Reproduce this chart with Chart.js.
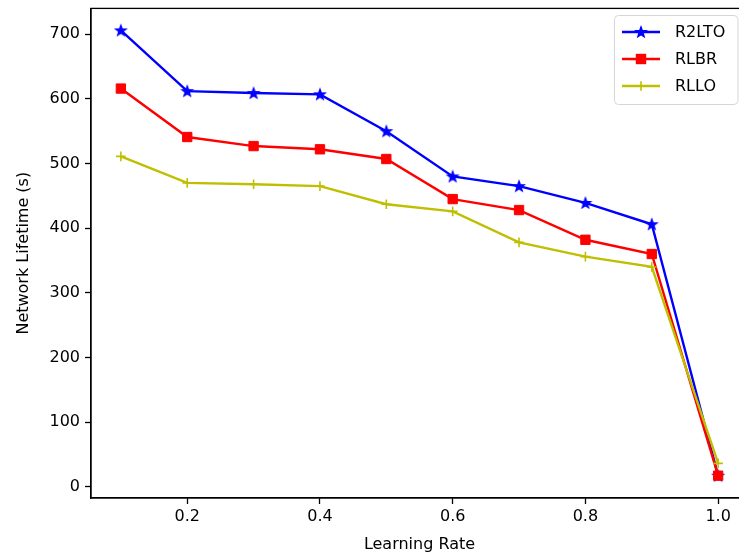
<!DOCTYPE html>
<html>
<head>
<meta charset="utf-8">
<script src="https://cdn.jsdelivr.net/npm/chart.js@4.4.1/dist/chart.umd.min.js"></script>
<style>
  html, body { margin: 0; padding: 0; overflow: hidden; background: #fff; }
  #wrap { position: relative; width: 760px; height: 558px; }
</style>
</head>
<body>
<div id="wrap"><canvas id="c"></canvas></div>
<script>
// ---- data ----
const learningRates = [0.1, 0.2, 0.3, 0.4, 0.5, 0.6, 0.7, 0.8, 0.9, 1.0];
const r2lto = [706, 612, 609, 607, 550, 480, 465, 439, 406, 17];
const rlbr  = [616, 541, 527, 522, 507, 445, 428, 382, 360, 17];
const rllo  = [511, 470, 468, 465, 437, 426, 378, 356, 340, 36];
const seriesNames = ['R2LTO', 'RLBR', 'RLLO'];
const xTickValues = [0.2, 0.4, 0.6, 0.8, 1.0];
const yTickValues = [0, 100, 200, 300, 400, 500, 600, 700];
const xTitle = 'Learning Rate';
const yTitle = 'Network Lifetime (s)';

const FONT = 'DejaVu Sans';
const BLUE = '#0000ff', RED = '#ff0000', YEL = '#bfbf00';

function starPath(ctx, cx, cy, R, r) {
  ctx.beginPath();
  for (let i = 0; i < 10; i++) {
    const rad = i % 2 === 0 ? R : r;
    const a = -Math.PI / 2 + i * Math.PI / 5;
    const px = cx + rad * Math.cos(a), py = cy + rad * Math.sin(a);
    if (i === 0) ctx.moveTo(px, py); else ctx.lineTo(px, py);
  }
  ctx.closePath();
}
function makeStar(color) {
  const c = document.createElement('canvas');
  c.width = 16; c.height = 16;
  const g = c.getContext('2d');
  starPath(g, 8, 8.4, 5.6, 2.3);
  g.fillStyle = color; g.fill();
  g.lineWidth = 1.2; g.strokeStyle = color; g.lineJoin = 'miter'; g.stroke();
  return c;
}
const starImg = makeStar(BLUE);

const toPts = arr => learningRates.map((x, i) => ({ x: x, y: arr[i] }));

const framePlugin = {
  id: 'frame',
  afterDraw(chart) {
    const { ctx, chartArea: a } = chart;
    ctx.save();
    ctx.strokeStyle = '#000'; ctx.lineWidth = 1.3;
    ctx.strokeRect(a.left, a.top, a.right - a.left, a.bottom - a.top);
    ctx.restore();
  }
};

const legendPlugin = {
  id: 'mplLegend',
  afterDraw(chart) {
    const ctx = chart.ctx;
    ctx.save();
    const bx = 614.5, by = 15.5, bw = 123.5, bh = 89, rr = 4;
    ctx.beginPath();
    ctx.moveTo(bx + rr, by); ctx.lineTo(bx + bw - rr, by); ctx.quadraticCurveTo(bx + bw, by, bx + bw, by + rr);
    ctx.lineTo(bx + bw, by + bh - rr); ctx.quadraticCurveTo(bx + bw, by + bh, bx + bw - rr, by + bh);
    ctx.lineTo(bx + rr, by + bh); ctx.quadraticCurveTo(bx, by + bh, bx, by + bh - rr);
    ctx.lineTo(bx, by + rr); ctx.quadraticCurveTo(bx, by, bx + rr, by);
    ctx.closePath();
    ctx.fillStyle = 'rgba(255,255,255,0.8)'; ctx.fill();
    ctx.strokeStyle = '#d6d6d6'; ctx.lineWidth = 1; ctx.stroke();

    const ys = [32, 59, 86];
    chart.data.datasets.forEach((ds, i) => {
      const y = ys[i];
      ctx.strokeStyle = ds.borderColor; ctx.lineWidth = 2.4;
      ctx.beginPath(); ctx.moveTo(622, y); ctx.lineTo(660, y); ctx.stroke();
      const mx = 641;
      if (i === 0) {
        ctx.drawImage(starImg, mx - 8, y - 8);
      } else if (i === 1) {
        ctx.fillStyle = RED; ctx.fillRect(mx - 5.2, y - 5.2, 10.4, 10.4);
      } else {
        ctx.strokeStyle = YEL; ctx.lineWidth = 1.6;
        ctx.beginPath(); ctx.moveTo(mx - 4.8, y); ctx.lineTo(mx + 4.8, y);
        ctx.moveTo(mx, y - 4.8); ctx.lineTo(mx, y + 4.8); ctx.stroke();
      }
      ctx.fillStyle = '#000'; ctx.font = '16px "' + FONT + '"';
      ctx.textBaseline = 'middle'; ctx.textAlign = 'left';
      ctx.fillText(ds.label, 675, y + 1);
    });
    ctx.restore();
  }
};

function noPad(s) { s.paddingTop = 0; s.paddingBottom = 0; s.paddingLeft = 0; s.paddingRight = 0; }

new Chart(document.getElementById('c'), {
  type: 'line',
  data: {
    datasets: [
      { label: seriesNames[0], data: toPts(r2lto), borderColor: BLUE, backgroundColor: BLUE,
        borderWidth: 2.4, pointStyle: starImg, pointRadius: 6, order: 3 },
      { label: seriesNames[1], data: toPts(rlbr), borderColor: RED, backgroundColor: RED,
        borderWidth: 2.4, pointStyle: 'rect', pointRadius: 6.6, pointBorderWidth: 1, pointBorderColor: RED, order: 2 },
      { label: seriesNames[2], data: toPts(rllo), borderColor: YEL, backgroundColor: YEL,
        borderWidth: 2.4, pointStyle: 'cross', pointRadius: 4.8, pointBorderWidth: 1.6, pointBorderColor: YEL, order: 1 }
    ]
  },
  options: {
    responsive: true,
    maintainAspectRatio: false,
    animation: false,
    events: [],
    layout: { padding: { top: 7, right: 12, left: 0, bottom: 0 } },
    elements: { line: { tension: 0, fill: false } },
    plugins: { legend: { display: false }, tooltip: { enabled: false } },
    scales: {
      x: {
        type: 'linear', min: 0.055, max: 1.045,
        afterBuildTicks: s => { s.ticks = xTickValues.map(v => ({ value: v })); },
        afterFit: s => { s.height = 60; noPad(s); },
        ticks: { callback: v => v.toFixed(1), color: '#000', font: { family: FONT, size: 16 }, padding: 3, maxRotation: 0, autoSkip: false },
        grid: { drawOnChartArea: false, drawTicks: true, tickLength: 6, color: '#000', tickWidth: 1.3 },
        border: { display: true, color: '#000', width: 1.3 },
        title: { display: true, text: xTitle, color: '#000', font: { family: FONT, size: 16 }, padding: { top: 4, bottom: 4 } }
      },
      y: {
        type: 'linear', min: -17.5, max: 740,
        afterBuildTicks: s => { s.ticks = yTickValues.map(v => ({ value: v })); },
        afterFit: s => { s.width = 91; noPad(s); },
        ticks: { color: '#000', font: { family: FONT, size: 16 }, padding: 5, autoSkip: false },
        grid: { drawOnChartArea: false, drawTicks: true, tickLength: 6, color: '#000', tickWidth: 1.3 },
        border: { display: true, color: '#000', width: 1.3 },
        title: { display: true, text: yTitle, color: '#000', font: { family: FONT, size: 16 }, padding: { top: 14, bottom: 4 } }
      }
    }
  },
  plugins: [framePlugin, legendPlugin]
});
</script>
</body>
</html>
